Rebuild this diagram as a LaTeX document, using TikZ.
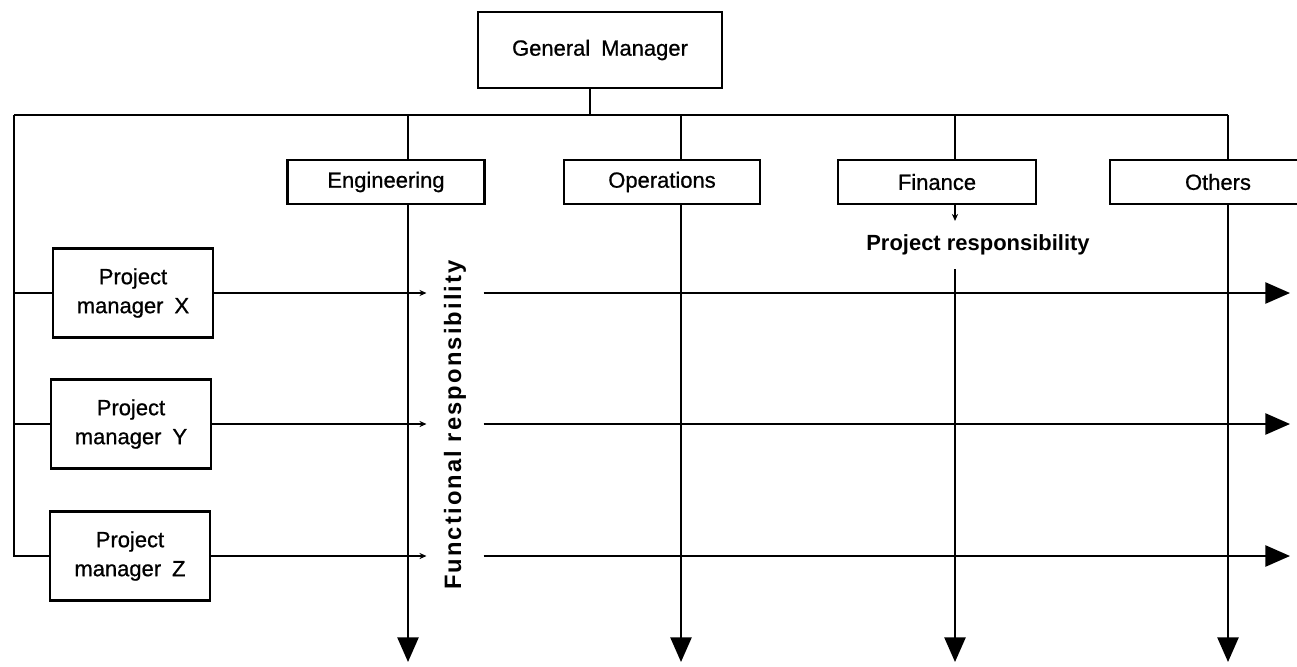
\documentclass[tikz,border=0pt]{standalone}
\usepackage{fontspec}
\setmainfont{Liberation Sans}
\usetikzlibrary{arrows.meta}

\begin{document}
\begin{tikzpicture}[
        x=0.02cm, y=-0.02cm,
        line width=1.2pt,
        box/.style={rectangle, draw, inner sep=0pt, font=\fontsize{12.5}{15}\selectfont\addfontfeature{FakeBold=0.8}},
        dept/.style={box, minimum height=0.88cm},
        pm/.style={box, minimum width=3.2cm, minimum height=1.78cm, align=center, font=\fontsize{12.5}{16.5}\selectfont\addfontfeature{FakeBold=0.8}},
        resp/.style={inner sep=0pt, font=\bfseries\fontsize{12.5}{15}\selectfont},
        bigarrow/.style={-{Triangle[length=14pt, width=12pt]}},
        smallarrow/.style={-{Stealth[length=4pt, width=3.5pt]}}
    ]
        \useasboundingbox (0,0) rectangle (1297,666);
        \clip (0,0) rectangle (1297,666);

        \node[box, minimum width=4.88cm, minimum height=1.52cm] (gm) at (600,50) {General\enspace Manager};
        \node[dept, minimum width=3.94cm] (eng) at (386,182) {Engineering};
        \node[dept, minimum width=3.92cm] (ops) at (662,182) {Operations};
        \node[dept, minimum width=3.96cm] (fin) at (937,182) {Finance};
        \node[dept, minimum width=4.32cm] (oth) at (1218,182) {Others};

        \node[pm] (pmx) at (133,293) {Project\\manager\enspace X};
        \node[pm] (pmy) at (131,424) {Project\\manager\enspace Y};
        \node[pm] (pmz) at (130,556) {Project\\manager\enspace Z};

        \node[resp, minimum height=0.92cm] (prj) at (978,245) {Project responsibility};
        \node[resp, minimum height=1.1cm, rotate=90, font=\bfseries\fontsize{13.5}{15}\selectfont] (fun) at (455,425)
            {\addfontfeature{LetterSpace=9}Functional responsibility};

        \coordinate (tl) at (14,115);
        \coordinate (tr) at (1228,115);
        \coordinate (gmj) at (590,115);
        \coordinate (hend) at (1290,0);

        % general manager to the functions
        \draw (gm.south -| gmj) -- (gmj);
        \draw (tl) -- (tr);

        % functional lines
        \foreach \d/\x in {eng/408, ops/681, fin/955, oth/1228} {
            \coordinate (\d top) at (\x,115);
            \coordinate (\d end) at (\x,662);
            \draw (\d top) -- (\d top |- \d.north);
        }
        \foreach \d in {eng, ops, oth}
            \draw[bigarrow] (\d top |- \d.south) -- (\d end);
        \draw[smallarrow] (fintop |- fin.south) -- (fintop |- prj.north);
        \draw[bigarrow] (fintop |- prj.south) -- (finend);

        % project managers
        \draw (tl) -- (tl |- pmz.west) -- (pmz.west);
        \draw (tl |- pmx.west) -- (pmx.west);
        \draw (tl |- pmy.west) -- (pmy.west);
        \foreach \p in {pmx, pmy, pmz} {
            \draw[smallarrow] (\p.east) -- (\p.east -| fun.north);
            \draw[bigarrow] (\p.east -| fun.south) -- (\p.east -| hend);
        }
    \end{tikzpicture}
\end{document}
